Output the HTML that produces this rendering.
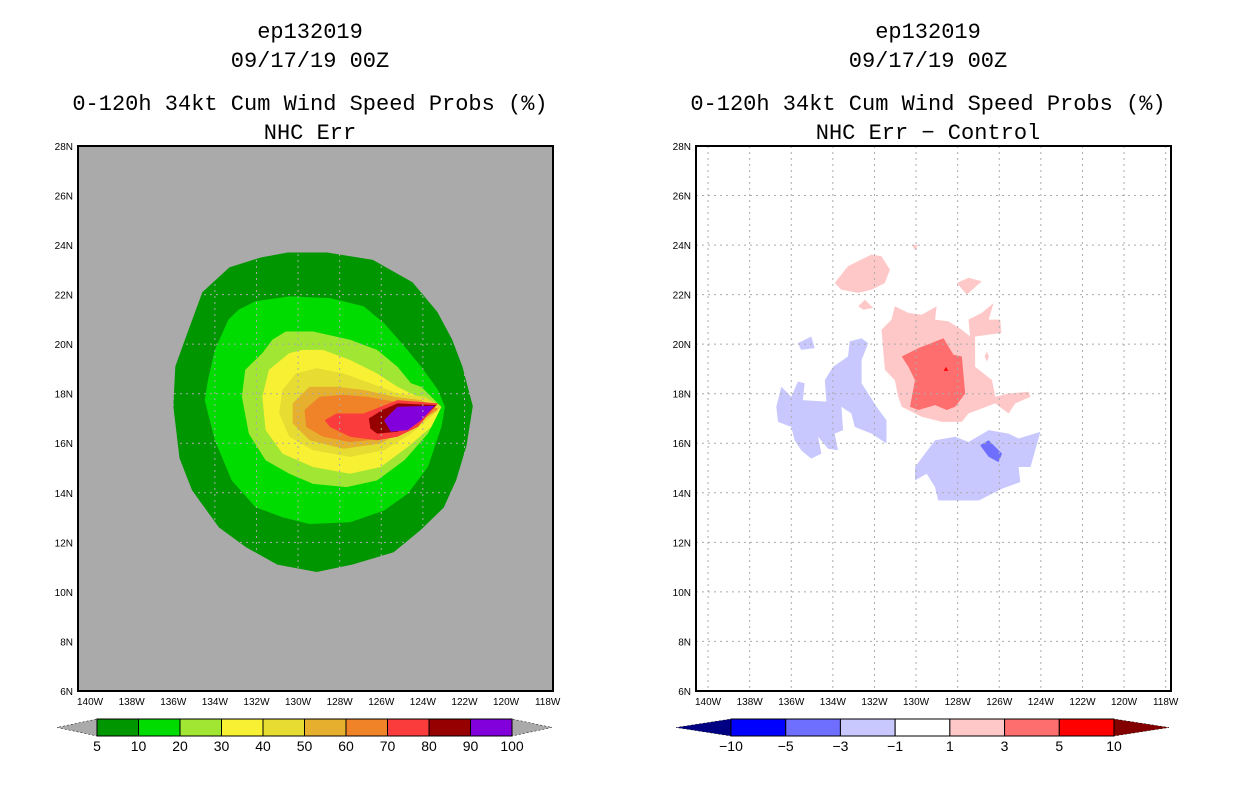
<!DOCTYPE html>
<html><head><meta charset="utf-8"><style>
body{margin:0;background:#fff;}
svg text{font-family:"Liberation Sans",sans-serif;}
svg text.ttl{font-family:"Liberation Mono",monospace;}
</style></head><body>
<svg id="fig" width="1236" height="800" xmlns="http://www.w3.org/2000/svg"></svg>
<script>
const lonTicks=[140,138,136,134,132,130,128,126,124,122,120,118];
const latTicks=[28,26,24,22,20,18,16,14,12,10,8,6];
const leftLevels=["5","10","20","30","40","50","60","70","80","90","100"];
const leftColors=["#009600","#00dc00","#a0e632","#f8f032","#e6dc32","#e6af2d","#f08228","#fa3c3c","#960000","#8200dc"];
const rightLevels=["-10","-5","-3","-1","1","3","5","10"];
const rightColors=["#000082","#0000ff","#6e6eff","#c8c8ff","#ffffff","#ffc8c8","#ff6e6e","#ff0000","#820000"];
// contour polygons [lonW, latN]
const c5=[[130.5,23.7],[128.6,23.7],[126.4,23.4],[124.5,22.5],[123.3,21.3],[122.6,20.2],[122.1,19.1],[121.6,17.5],[121.9,15.9],[122.4,14.5],[123.0,13.4],[124.1,12.5],[125.4,11.6],[127.4,11.1],[129.1,10.8],[131.0,11.1],[132.5,11.8],[133.8,12.6],[135.1,14.1],[135.7,15.4],[136.0,17.5],[135.9,19.1],[135.3,20.5],[134.6,22.1],[133.3,23.1],[131.8,23.5]];
const c10=[[133.35,20.99],[134.0,19.77],[134.33,18.55],[134.49,17.74],[134.0,16.12],[133.19,14.5],[132.05,13.42],[130.75,13.01],[129.45,12.74],[127.5,12.81],[125.87,13.28],[124.73,13.96],[123.76,15.04],[123.11,16.66],[122.94,17.47],[123.27,18.15],[124.08,19.09],[124.89,19.91],[125.87,20.85],[126.85,21.53],[128.47,21.86],[130.42,21.93],[132.05,21.73],[132.86,21.39]];
const c20=[[131.72,19.64],[132.54,18.96],[132.7,17.88],[132.37,16.39],[131.56,15.31],[130.42,14.77],[129.28,14.36],[127.66,14.23],[126.2,14.5],[124.89,15.31],[123.76,16.39],[123.11,17.47],[124.08,18.28],[124.57,18.42],[125.22,19.09],[126.2,19.77],[127.5,20.18],[129.28,20.51],[130.59,20.51],[131.24,20.18]];
const c30=[[130.42,19.64],[131.4,18.96],[131.72,17.88],[131.56,16.53],[130.75,15.58],[129.28,15.04],[127.5,14.77],[126.03,15.04],[124.73,15.85],[123.59,16.66],[123.11,17.47],[124.24,17.88],[125.22,18.28],[126.2,18.82],[127.5,19.36],[128.8,19.77],[129.77,19.77]];
const c40=[[130.1,18.82],[130.75,18.15],[130.91,17.2],[130.42,16.26],[129.28,15.72],[127.5,15.45],[125.87,15.72],[124.57,16.39],[123.43,17.2],[123.11,17.47],[123.92,17.88],[125.22,18.01],[126.52,18.42],[127.82,18.82],[129.12,19.03]];
const c50=[[129.45,18.28],[130.26,17.61],[130.26,16.8],[129.45,16.12],[127.82,15.78],[126.03,15.99],[124.57,16.66],[123.27,17.34],[124.08,17.74],[125.38,17.88],[126.85,18.15],[128.15,18.28]];
const c60=[[128.96,17.88],[129.69,17.34],[129.61,16.66],[128.8,16.26],[127.5,16.05],[125.87,16.19],[124.57,16.66],[123.27,17.4],[124.24,17.68],[125.38,17.68],[126.68,17.88],[127.82,17.95]];
const c70=[[128.72,16.93],[128.15,17.2],[126.85,17.2],[126.03,17.47],[125.22,17.74],[123.27,17.61],[124.24,16.66],[125.22,16.26],[126.2,16.12],[127.5,16.26],[128.47,16.66]];
const c80=[[126.6,17.0],[125.95,17.34],[125.22,17.61],[123.35,17.54],[124.24,16.86],[125.22,16.46],[126.2,16.39],[126.52,16.59]];
const c90=[[125.87,16.93],[125.22,17.47],[123.43,17.51],[124.08,16.93],[124.73,16.53],[125.54,16.46]];
const leftContours=[c5,c10,c20,c30,c40,c50,c60,c70,c80,c90];
// difference panel polygons
const pinkTop=[[133.91,22.47],[133.27,23.15],[132.14,23.62],[131.66,23.55],[131.26,23.01],[131.5,22.47],[132.14,22.2],[132.78,22.07],[133.59,22.2]];
const pinkSmallA=[[128.04,22.47],[127.48,22.68],[126.84,22.54],[127.56,22.0]];
const pinkSmallB=[[132.78,21.53],[132.46,21.8],[132.06,21.46],[132.54,21.39]];
const pinkTiny=[[130.2,24.0],[129.9,24.0],[130.05,23.8]];
const pinkDiamond=[[126.6,19.7],[126.5,19.5],[126.6,19.3],[126.7,19.5]];
const pinkBig=[[131.66,20.58],[131.18,20.99],[131.02,21.53],[130.37,21.26],[129.73,21.19],[129.01,21.53],[129.09,20.99],[128.44,20.92],[127.8,20.58],[127.4,20.31],[127.48,20.99],[126.84,21.26],[126.27,21.66],[126.51,20.99],[125.95,20.99],[125.9,20.45],[127.16,20.31],[127.16,19.09],[126.35,18.55],[126.19,17.88],[125.55,18.01],[124.59,18.08],[124.5,17.88],[125.23,17.61],[125.55,17.2],[126.19,17.61],[127.48,17.2],[127.8,16.86],[128.77,16.86],[129.73,17.07],[130.69,17.47],[130.86,17.88],[131.02,18.55],[131.5,18.96],[131.58,19.77]];
const redMid=[[130.69,19.5],[129.89,19.84],[128.68,20.24],[128.2,19.57],[127.8,19.5],[127.64,18.01],[128.12,17.47],[128.52,17.34],[129.09,17.54],[129.89,17.34],[130.29,17.47],[130.05,18.55],[130.37,19.09]];
const redStar=[[128.56,19.08],[128.45,18.92],[128.67,18.92]];
const blueLeft=[[136.72,17.47],[136.48,18.28],[136.0,17.88],[135.68,18.49],[135.36,18.42],[135.44,17.74],[134.31,17.68],[134.39,18.55],[133.99,19.09],[133.27,19.5],[133.19,20.11],[132.62,20.24],[132.3,20.04],[132.62,19.36],[132.62,18.42],[131.9,17.47],[131.42,16.93],[131.42,15.99],[132.14,16.39],[132.95,16.66],[133.11,17.2],[133.59,17.47],[133.51,16.53],[133.91,16.39],[133.75,15.72],[134.23,15.78],[134.71,16.26],[134.55,15.58],[135.04,15.38],[135.52,15.72],[135.84,16.12],[136.0,16.66],[136.64,16.86]];
const blueSmall=[[135.68,20.04],[135.04,20.31],[134.87,19.84],[135.52,19.77]];
const blueBottom=[[130.05,15.04],[129.09,16.12],[128.12,16.26],[127.48,16.05],[126.51,16.53],[125.55,16.39],[125.07,16.19],[124.02,16.46],[124.5,15.04],[125.07,15.04],[124.99,14.43],[125.87,14.16],[126.99,13.69],[128.93,13.69],[129.09,14.23],[129.49,14.77],[130.05,14.5]];
const blueDark=[[126.92,15.92],[126.51,16.12],[125.87,15.58],[126.03,15.24],[126.51,15.45]];

const NS="http://www.w3.org/2000/svg";
const svg=document.getElementById('fig');
function mk(tag,attrs,parent){const e=document.createElementNS(NS,tag);for(const k in attrs)e.setAttribute(k,attrs[k]);(parent||svg).appendChild(e);return e;}
const PW=475,PH=545,LON0=140.58,DEGX=20.8,DEGY=24.77;
function xs(x0,lonW){return x0+(LON0-lonW)*DEGX;}
function ys(lat){return 146+(28-lat)*DEGY;}
function poly(x0,pts,fill,name,g){const p=mk('polygon',{points:pts.map(q=>xs(x0,q[0]).toFixed(1)+','+ys(q[1]).toFixed(1)).join(' '),fill:fill},g);

}

function panel(x0,cx,bg,t4,name){
 const g=mk('g',{});
 
 
 const t=[["ep132019",38],["09/17/19 00Z",67],["0-120h 34kt Cum Wind Speed Probs (%)",110],[t4,139]];
 t.forEach((a,i)=>{const e=mk('text',{x:cx,y:a[1],'text-anchor':'middle','font-size':22,fill:'#000','class':'ttl'},g);e.textContent=a[0];
  
  });
 const r=mk('rect',{x:x0,y:146,width:PW,height:PH,fill:bg},g);
 
 
 return g;
}
function grid(x0,g){
 lonTicks.forEach(l=>{const x=xs(x0,l);
  const ln=mk('line',{x1:x,y1:146,x2:x,y2:691,stroke:'#aaa','stroke-dasharray':'2,4'},g);
  
  
  const t=mk('text',{x:x,y:705,'text-anchor':'middle','font-size':10},g);t.textContent=l+'W';
  
  });
 latTicks.forEach(l=>{const y=ys(l);
  if(l!==28&&l!==6){const ln=mk('line',{x1:x0,y1:y,x2:x0+PW,y2:y,stroke:'#aaa','stroke-dasharray':'2,4'},g);
  
  }
  const t=mk('text',{x:x0-5,y:y+4,'text-anchor':'end','font-size':10},g);t.textContent=l+'N';
  
  });
 const f=mk('rect',{x:x0,y:146,width:PW,height:PH,fill:'none',stroke:'#000','stroke-width':2},g);
 
 
}
function colorbar(x0,x1,arrow,colors,labels,triL,triR,name){
 const g=mk('g',{});
 
 
 const n=labels.length, w=(x1-x0)/(n-1);
 const y0=719,y1=736;
 const a=mk('polygon',{points:`${x0},${y0} ${x0},${y1} ${x0-arrow},${(y0+y1)/2}`,fill:triL,stroke:'#000','stroke-width':0.5,'stroke-dasharray':'2,2'},g);
 
 
 const b=mk('polygon',{points:`${x1},${y0} ${x1},${y1} ${x1+arrow},${(y0+y1)/2}`,fill:triR,stroke:'#000','stroke-width':0.5,'stroke-dasharray':'2,2'},g);
 
 
 for(let i=0;i<n-1;i++){const r=mk('rect',{x:x0+i*w,y:y0,width:w,height:y1-y0,fill:colors[i],stroke:'#000','stroke-width':1},g);
  
  }
 labels.forEach((l,i)=>{const t=mk('text',{x:x0+i*w,y:751,'text-anchor':'middle','font-size':14},g);t.textContent=l.replace('-','\u2212');
  
  });
}
// left panel
const gl=panel(78,310,'#aaaaaa','NHC Err','left-panel');
leftContours.forEach((c,i)=>poly(78,c,leftColors[i],'contour-'+leftLevels[i],gl));
grid(78,gl);
colorbar(97,512,40,leftColors,leftLevels,'#aaaaaa','#aaaaaa','left-colorbar');
// right panel
const gr=panel(696,928,'#ffffff','NHC Err \u2212 Control','right-panel');
[pinkTop,pinkSmallA,pinkSmallB,pinkTiny,pinkDiamond,pinkBig].forEach(p=>poly(696,p,'#ffc8c8','diff-pos-1',gr));
poly(696,redMid,'#ff6e6e','diff-pos-3',gr);
poly(696,redStar,'#ff0000','diff-pos-5',gr);
[blueLeft,blueSmall,blueBottom].forEach(p=>poly(696,p,'#c8c8ff','diff-neg-1',gr));
poly(696,blueDark,'#6e6eff','diff-neg-3',gr);
grid(696,gr);
colorbar(731,1114,55,rightColors.slice(1,8),rightLevels,rightColors[0],rightColors[8],'right-colorbar');
</script>
</body></html>
